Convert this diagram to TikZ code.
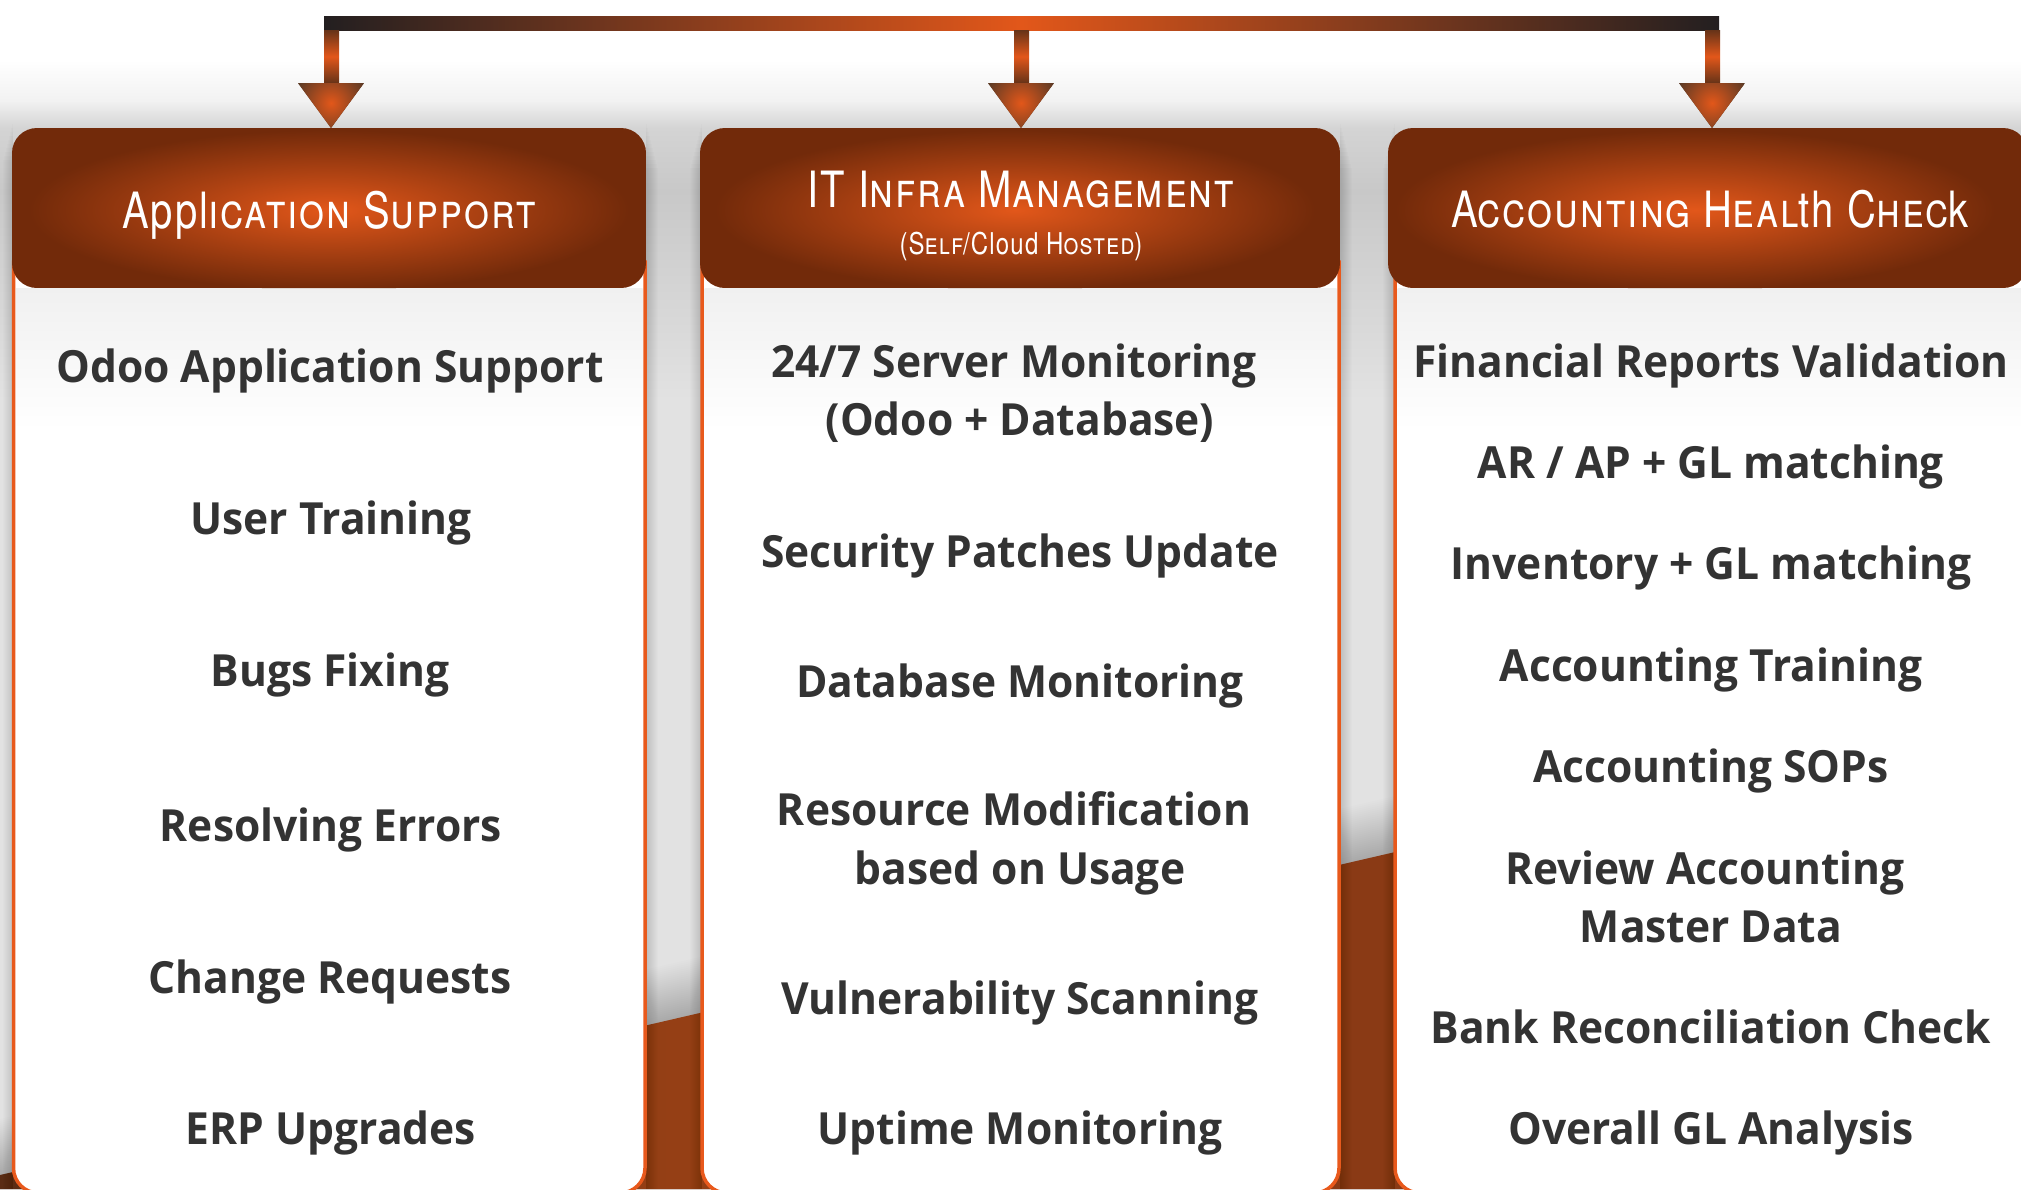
\documentclass[tikz,border=0pt]{standalone}
\usepackage{fontspec}
\setmainfont{Open Sans}
\newfontfamily\itemfont[FakeStretch=.96]{Open Sans Bold}
\newfontfamily\hdfont[FakeStretch=.80,LetterSpace=4]{TeX Gyre Heros}
\newfontfamily\hdsc[Letters=SmallCaps,FakeStretch=.80,LetterSpace=4]{TeX Gyre Heros}
\usetikzlibrary{calc}
\definecolor{hot}{HTML}{E2571A}
\definecolor{rim}{HTML}{722A0A}
\definecolor{edge}{HTML}{E8591C}
\definecolor{ink}{HTML}{333333}
\definecolor{tar}{HTML}{231F20}
\definecolor{stemdk}{HTML}{663318}
\definecolor{headdk}{HTML}{5B3A25}
\definecolor{gA}{HTML}{E2E2E2}
\definecolor{gB}{HTML}{C8C8C8}
\definecolor{gC}{HTML}{D4D4D4}
\definecolor{gD}{HTML}{F2F2F2}
\definecolor{brA}{HTML}{5A2C14}
\definecolor{brB}{HTML}{953F15}
\definecolor{brC}{HTML}{8A3A15}
\definecolor{cardtop}{HTML}{F0F0F0}
\pgfdeclareradialshading{hdrglow}{\pgfpointorigin}{color(0bp)=(hot);color(25bp)=(rim);color(50bp)=(rim)}
\pgfdeclareradialshading{headglow}{\pgfpointorigin}{color(0bp)=(hot);color(25bp)=(headdk);color(50bp)=(headdk)}
\pgfdeclareverticalshading{backdrop}{100bp}{color(0bp)=(gA);color(59.9bp)=(gA);color(69.2bp)=(gB);color(72bp)=(gC);color(73.2bp)=(gD);color(75bp)=(white);color(100bp)=(white)}
\pgfdeclarehorizontalshading{brownfloor}{100bp}{color(0bp)=(brA);color(25bp)=(brA);color(41.6bp)=(brB);color(58.8bp)=(brC);color(75bp)=(brC);color(100bp)=(brC)}
\tikzset{
  x=1pt,y=-1pt,
  itemtext/.style={font=\itemfont\fontsize{44.3}{58.6}\selectfont,text=ink,align=center,inner sep=0pt,anchor=base},
  headtext/.style={text=white,align=center,inner sep=0pt,anchor=base},
  cardbox/.style={fill=white,draw=edge,line width=3.5pt},
  headbox/.style={rounded corners=25pt},
}
\newcommand{\bigh}{\hdfont\fontsize{50}{50}\selectfont}
\newcommand{\smh}{\hdsc\fontsize{50}{50}\selectfont}
\newcommand{\bigs}{\hdfont\fontsize{30}{30}\selectfont}
\newcommand{\sms}{\hdsc\fontsize{30}{30}\selectfont}
\newcommand{\nudge}{\hspace*{12pt}}
% header: x0,x1,glow-x
\newcommand{\headpanel}[3]{%
  \begin{scope}
    \clip[headbox] (#1,128) rectangle (#2,288);
    \fill[rim] (#1,128) rectangle (#2,288);
    \shade[shading=hdrglow] (#3,210) ellipse (300 and 80);
  \end{scope}}
% card: x0,x1, rounded at the bottom only
\newcommand{\cardpanel}[2]{%
  \draw[cardbox] (#1,262) [rounded corners=25pt] -- (#1,1193) -- (#2,1193) [sharp corners] -- (#2,262) -- cycle;}
% drop stem and arrow head: x of stem left, x of tip
\newcommand{\drop}[2]{%
  \shade[top color=stemdk,bottom color=stemdk,middle color=hot] (#1,30) rectangle (#1+15,83);
  \begin{scope}
    \clip (#2-33,83) -- (#2+33,83) -- (#2,128) -- cycle;
    \fill[headdk] (#2-33,83) rectangle (#2+33,128);
    \shade[shading=headglow] (#2,103) ellipse (38 and 38);
  \end{scope}}
% side shadow in a gap
\newcommand{\gapshadow}[2]{%
  \foreach \i in {1,...,12}{
    \fill[black,opacity=.012] (#1,{120+\i*4}) rectangle (#1+\i,1189);
    \fill[black,opacity=.012] (#2,{120+\i*4}) rectangle (#2-\i,1189);
  }}
\begin{document}
\begin{tikzpicture}
\useasboundingbox (0,0) rectangle (2021,1189);
% background
\shade[shading=backdrop] (0,60) rectangle (2021,1189);
\fill[white] (0,0) rectangle (2021,60);
% darkening above floor
\foreach \d in {2,4,...,56}{
  \fill[black,opacity=.009] (0,1175-\d) -- (2021,1175-0.2315*2021-\d) -- (2021,1189) -- (0,1189) -- cycle;
}
% floor
\shade[shading=brownfloor] (0,1175) -- (2021,1175-0.2315*2021) -- (2021,1189) -- (0,1189) -- cycle;
\foreach \i in {1,...,10}{\fill[black,opacity=.012] (13,{120+\i*4}) rectangle (13-\i,1189);}
\gapshadow{646}{702}
\gapshadow{1340}{1395}
% cards
\cardpanel{13.5}{645}
\cardpanel{702}{1339}
\cardpanel{1395}{2060}
\shade[top color=cardtop,bottom color=white] (16,288) rectangle (642.5,430);
\shade[top color=cardtop,bottom color=white] (704.5,288) rectangle (1336.5,430);
\shade[top color=cardtop,bottom color=white] (1397.5,288) rectangle (2021,430);
% headers
\headpanel{12}{646}{329}
\headpanel{700}{1340}{1015}
\headpanel{1388}{2028}{1695}
% top bar and drops
\shade[left color=tar,right color=tar,middle color=hot] (324,16) rectangle (1719,30);
\drop{324}{331}
\drop{1014}{1021}
\drop{1705}{1712}
% header titles
\node[headtext] (tA) at (329,228) {\bigh Appl{\smh ication} S{\smh upport}};
\node[headtext] (tB) at (1021,207) {\bigh IT I{\smh nfra} M{\smh anagement}};
\node[headtext] (tBs) at (1021,254) {\bigs (S{\sms elf}/Cloud H{\sms osted})};
\node[headtext] (tC) at (1710,227) {\bigh A{\smh ccounting} H{\smh eal}th C{\smh hec}k};
% items
\node[itemtext] (a1) at (330,382) {Odoo Application Support};
\node[itemtext] (a2) at (331,534) {User Training};
\node[itemtext] (a3) at (330,686) {Bugs Fixing};
\node[itemtext] (a4) at (331,841) {Resolving Errors};
\node[itemtext] (a5) at (330,993) {Change Requests};
\node[itemtext] (a6) at (331,1144) {ERP Upgrades};
\node[itemtext] (b1) at (1020,435.6) {24/7 Server Monitoring\nudge\\(Odoo + Database)};
\node[itemtext] (b2) at (1020,567) {Security Patches Update};
\node[itemtext] (b3) at (1020,697) {Database Monitoring};
\node[itemtext] (b4) at (1020,884) {Resource Modification\nudge\\based on Usage};
\node[itemtext] (b5) at (1020,1014) {Vulnerability Scanning};
\node[itemtext] (b6) at (1020,1144) {Uptime Monitoring};
\node[itemtext] (c1) at (1711,377) {Financial Reports Validation};
\node[itemtext] (c2) at (1711,478) {AR / AP + GL matching};
\node[itemtext] (c3) at (1711,579) {Inventory + GL matching};
\node[itemtext] (c4) at (1711,681) {Accounting Training};
\node[itemtext] (c5) at (1711,782) {Accounting SOPs};
\node[itemtext] (c6) at (1711,942.6) {Review Accounting\nudge\\Master Data};
\node[itemtext] (c7) at (1711,1043) {Bank Reconciliation Check};
\node[itemtext] (c8) at (1711,1144) {Overall GL Analysis};
\end{tikzpicture}
\end{document}
